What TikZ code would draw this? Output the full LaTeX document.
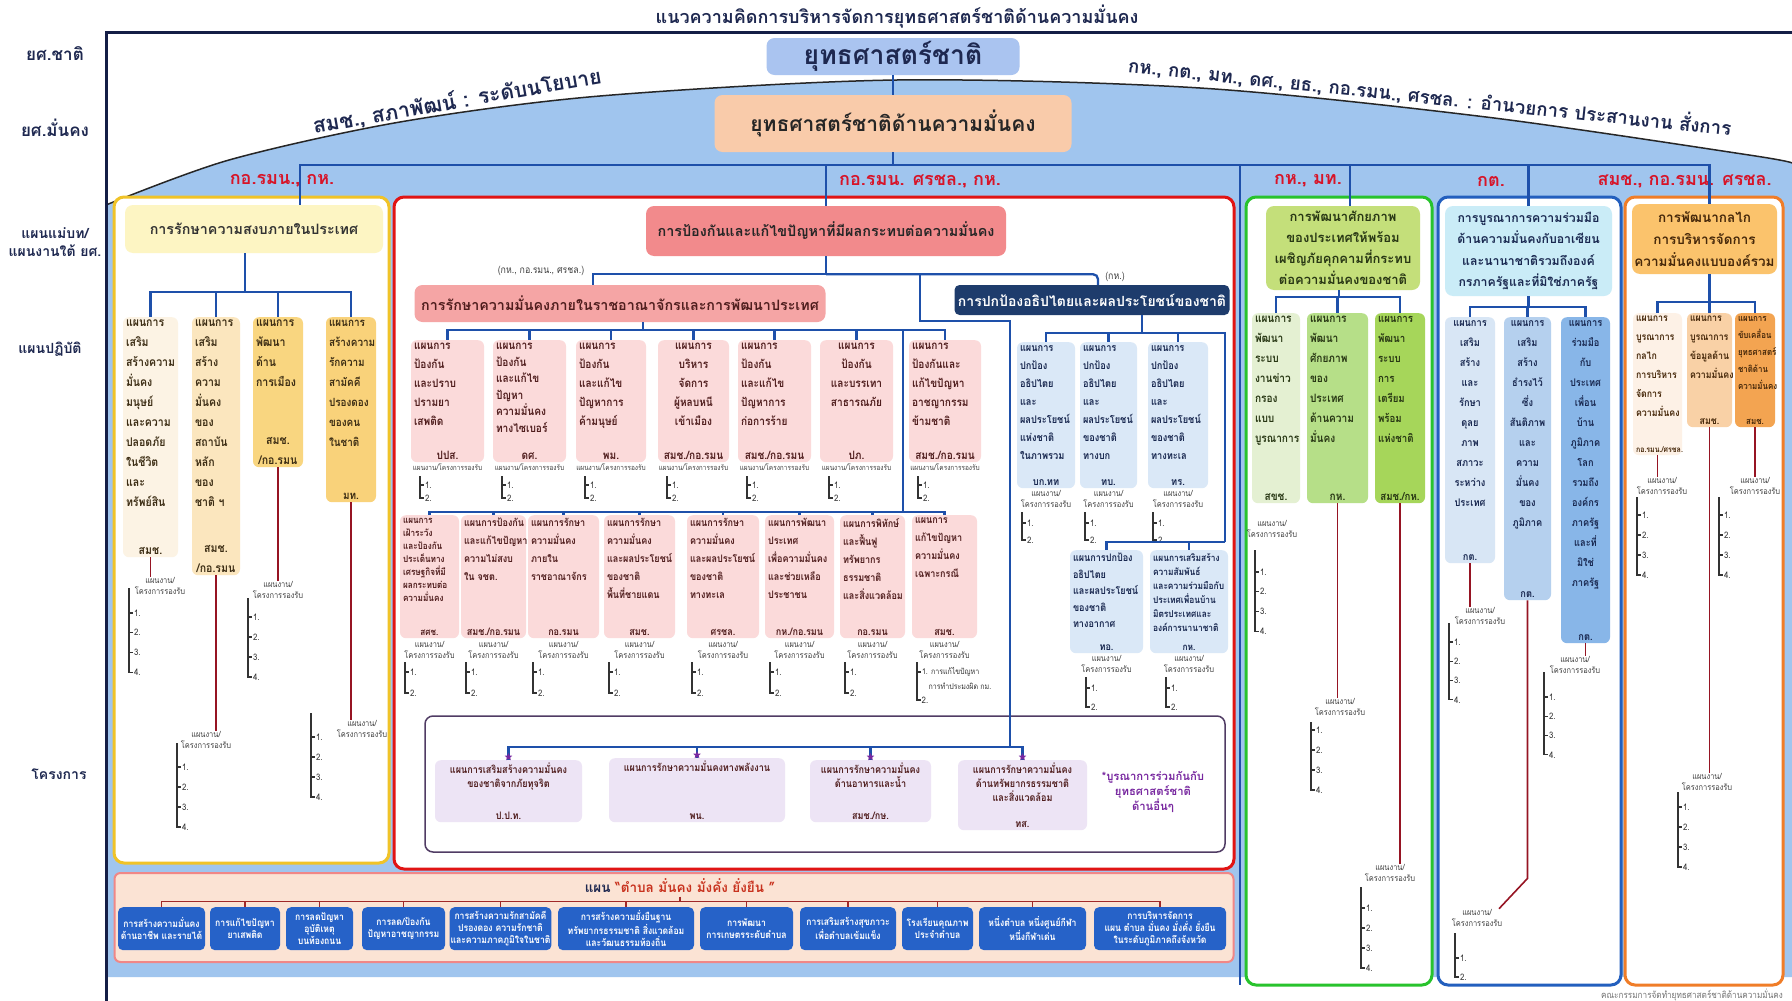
\documentclass[tikz,border=0pt]{standalone}
\usepackage{fontspec}
\setmainfont[Script=Thai]{Loma}
\newfontfamily\thc[Script=Thai,FakeStretch=0.88]{Loma}
\usetikzlibrary{positioning,shapes.geometric}

\definecolor{domeblue}{RGB}{160,197,238}
\definecolor{framenavy}{RGB}{20,30,70}
\definecolor{labnavy}{RGB}{30,40,80}
\definecolor{natblue}{RGB}{170,196,240}
\definecolor{secpeach}{RGB}{249,203,170}
\definecolor{agred}{RGB}{215,20,40}
\definecolor{connblue}{RGB}{30,80,170}
\definecolor{supred}{RGB}{150,20,35}
\definecolor{ygold}{RGB}{240,195,40}
\definecolor{rred}{RGB}{225,20,20}
\definecolor{ggreen}{RGB}{40,195,45}
\definecolor{bblue}{RGB}{35,95,190}
\definecolor{oorange}{RGB}{240,125,40}
\definecolor{yhdrfill}{RGB}{253,245,195}
\definecolor{ycola}{RGB}{252,243,228}
\definecolor{ycolb}{RGB}{251,230,190}
\definecolor{ycolc}{RGB}{249,214,128}
\definecolor{ycold}{RGB}{249,210,122}
\definecolor{ytext}{RGB}{60,45,20}
\definecolor{rhdrfill}{RGB}{242,138,140}
\definecolor{rintfill}{RGB}{245,165,165}
\definecolor{navyfill}{RGB}{30,60,108}
\definecolor{pinkcol}{RGB}{251,218,218}
\definecolor{ptext}{RGB}{80,30,30}
\definecolor{lbluecol}{RGB}{218,232,247}
\definecolor{ntext}{RGB}{25,40,80}
\definecolor{ghdrfill}{RGB}{196,223,122}
\definecolor{gcola}{RGB}{228,240,210}
\definecolor{gcolb}{RGB}{182,223,136}
\definecolor{gcolc}{RGB}{166,214,90}
\definecolor{gtext}{RGB}{40,55,20}
\definecolor{bhdrfill}{RGB}{202,236,247}
\definecolor{bcola}{RGB}{216,230,245}
\definecolor{bcolb}{RGB}{181,208,238}
\definecolor{bcolc}{RGB}{136,182,232}
\definecolor{ohdrfill}{RGB}{251,195,108}
\definecolor{ocola}{RGB}{253,241,230}
\definecolor{ocolb}{RGB}{249,209,166}
\definecolor{ocolc}{RGB}{243,164,81}
\definecolor{otext}{RGB}{70,40,10}
\definecolor{lav}{RGB}{237,228,245}
\definecolor{pframe}{RGB}{80,60,100}
\definecolor{notepurple}{RGB}{120,40,160}
\definecolor{tpeach}{RGB}{251,227,212}
\definecolor{tpinkline}{RGB}{240,135,135}
\definecolor{tblue}{RGB}{38,98,200}
\definecolor{tline}{RGB}{160,40,40}
\definecolor{ttlred}{RGB}{200,50,30}

\newcommand{\cb}[4]{\parbox[t][#2pt][t]{#1pt}{\raggedright #3\par\vfill\centering #4\par}}
\newcommand{\blist}[6]{%
  \draw[brk] (#2,#3) -- (#2,{#4+(#5-1)*#6}) -- ++(4,0);
  \foreach \i in {1,...,#5}
    \draw[brk] (#2,{#4+(\i-1)*#6}) -- ++(4,0) node[num] (#1\i) {\i.};
}

\begin{document}
\begin{tikzpicture}[x=1pt,y=-1pt,
  conn/.style={draw=connblue,line width=2.3pt},
  sline/.style={draw=supred,line width=1.6pt},
  brk/.style={draw=black!80,line width=1.1pt},
  num/.style={anchor=west,inner sep=0.5pt,text=black!80,font=\thc\fontsize{9}{9}\selectfont},
  sup/.style={align=center,inner sep=0.5pt,text=black!75,font=\thc\fontsize{8.5}{11}\selectfont},
  panel/.style={draw=#1,line width=3pt,fill=white,rounded corners=10pt},
  hdr/.style={fill=#1,rounded corners=8pt,align=center,inner sep=2pt},
  col/.style={fill=#1,rounded corners=6pt,anchor=north,inner sep=3pt},
  ycol/.style={col=#1,text=ytext,font=\thc\bfseries\fontsize{12}{20}\selectfont},
  pcol/.style={col=pinkcol,text=ptext,font=\thc\bfseries\fontsize{11.5}{19}\selectfont},
  qcol/.style={col=pinkcol,text=ptext,font=\thc\bfseries\fontsize{10.3}{18}\selectfont},
  ncol/.style={col=lbluecol,text=ntext,font=\thc\bfseries\fontsize{10.5}{18}\selectfont},
  gcol/.style={col=#1,text=gtext,font=\thc\bfseries\fontsize{11.5}{20}\selectfont},
  bcol/.style={col=#1,text=ntext,font=\thc\bfseries\fontsize{10.5}{20}\selectfont},
  ocol/.style={col=#1,text=otext,font=\thc\bfseries\fontsize{10}{19}\selectfont},
  jcol/.style={col=lav,text=ptext,font=\thc\bfseries\fontsize{10.3}{14}\selectfont},
  lbl/.style={text=labnavy,font=\bfseries\fontsize{14}{17}\selectfont},
  agl/.style={text=agred,font=\bfseries\fontsize{18}{19}\selectfont},
  tbox/.style={fill=tblue,rounded corners=5pt,text=white,align=center,anchor=north,inner sep=1pt,minimum height=43,font=\thc\bfseries\fontsize{9.8}{12.3}\selectfont}]

\useasboundingbox (0,0) rectangle (1792,1001);
\fill[white] (0,0) rectangle (1792,1001);

% dome and frame
\fill[domeblue] plot[smooth] coordinates {(106,205) (229,160) (400,122) (600,96) (897,80) (1200,88) (1486,117) (1749,155) (1792,163)} -- (1792,977) -- (106,977) -- cycle;
\draw[line width=1.5pt,black!85] plot[smooth] coordinates {(106,205) (229,160) (400,122) (600,96) (897,80) (1200,88) (1486,117) (1749,155) (1792,163)};
\draw[line width=3pt,framenavy] (106,1001) -- (106,32) -- (1792,32);

\node[text=labnavy,font=\bfseries\fontsize{18}{19}\selectfont] (title) at (897,17) {แนวความคิดการบริหารจัดการยุทธศาสตร์ชาติด้านความมั่นคง};
\node[lbl,font=\bfseries\fontsize{17}{18}\selectfont] (lnat) at (55,54) {ยศ.ชาติ};
\node[lbl,font=\bfseries\fontsize{17}{18}\selectfont] (lsec) at (55,128) {ยศ.มั่นคง};
\node[lbl,align=center,font=\bfseries\fontsize{14}{18}\selectfont] (lplan) at (55,242) {แผนแม่บท/\\แผนงานใต้ ยศ.};
\node[lbl] (lop) at (50,349) {แผนปฏิบัติ};
\node[lbl] (lproj) at (59,774) {โครงการ};

\node[rotate=10,text=labnavy,font=\bfseries\fontsize{21}{22}\selectfont] (pol) at (457,101) {สมช., สภาพัฒน์ : ระดับนโยบาย};
\node[rotate=-6,text=labnavy,font=\bfseries\fontsize{18.7}{20}\selectfont] (cmd) at (1430,96) {กห., กต., มท., ดศ., ยธ., กอ.รมน., ศรชล. : อำนวยการ ประสานงาน สั่งการ};

\node[hdr=natblue,minimum width=253,minimum height=37,text=labnavy,font=\bfseries\fontsize{26.5}{27}\selectfont] (nat) at (893,56.5) {ยุทธศาสตร์ชาติ};
\node[hdr=secpeach,minimum width=357,minimum height=57,text=black!85,font=\bfseries\fontsize{21}{22}\selectfont] (sec) at (893,123.5) {ยุทธศาสตร์ชาติด้านความมั่นคง};

\node[agl] (ag1) at (282,181) {กอ.รมน., กห.};
\node[agl] (ag2) at (920,181) {กอ.รมน. ศรชล., กห.};
\node[agl] (ag3) at (1308,181) {กห., มท.};
\node[agl] (ag4) at (1491,181) {กต.};
\node[agl,anchor=west] (ag5) at (1594,181) {สมช., กอ.รมน. ศรชล.};

% panels
\node[panel=ygold,minimum width=275,minimum height=666] (ypan) at (251.5,530) {};
\node[panel=rred,minimum width=840,minimum height=672] (rpan) at (814,533) {};
\node[panel=ggreen,minimum width=186,minimum height=788] (gpan) at (1339,591) {};
\node[panel=bblue,minimum width=183,minimum height=788] (bpan) at (1529.5,591) {};
\node[panel=oorange,minimum width=158,minimum height=788] (opan) at (1704,591) {};
\node[panel=tpinkline,fill=tpeach,line width=2pt,rounded corners=6pt,minimum width=1119,minimum height=89] (tstr) at (674,917.5) {};
\coordinate (sepbot) at (1240,985);

% yellow panel
\node[hdr=yhdrfill,minimum width=258,minimum height=48,text=black!80,font=\bfseries\fontsize{14.3}{16}\selectfont] (yhdr) at (254,229) {การรักษาความสงบภายในประเทศ};
\node[ycol=ycola] (ya) at (150.5,317) {\cb{49}{234}{แผนการ\\เสริม\\สร้างความ\\มั่นคง\\มนุษย์\\และความ\\ปลอดภัย\\ในชีวิต\\และ\\ทรัพย์สิน}{สมช.}};
\node[ycol=ycolb] (yb) at (216,317) {\cb{42}{252}{แผนการ\\เสริม\\สร้าง\\ความ\\มั่นคง\\ของ\\สถาบัน\\หลัก\\ของ\\ชาติ ฯ}{สมช.\\/กอ.รมน}};
\node[ycol=ycolc] (yc) at (278,317) {\cb{44}{144}{แผนการ\\พัฒนา\\ด้าน\\การเมือง}{สมช.\\/กอ.รมน}};
\node[ycol=ycold,font=\thc\bfseries\fontsize{11.3}{20}\selectfont] (yd) at (351,317) {\cb{44}{179}{แผนการ\\สร้างความ\\รักความ\\สามัคคี\\ปรองดอง\\ของคน\\ในชาติ}{มท.}};

\node[sup] (sya) at (160,586) {แผนงาน/\\โครงการรองรับ};
\blist{ya}{129}{588}{613}{4}{19.7}
\node[sup] (syb) at (206,740) {แผนงาน/\\โครงการรองรับ};
\blist{yb}{177}{743}{767}{4}{20}
\node[sup] (syc) at (278,590) {แผนงาน/\\โครงการรองรับ};
\blist{yc}{248}{598}{617}{4}{20}
\node[sup] (syd) at (362,729) {แผนงาน/\\โครงการรองรับ};
\blist{yd}{311}{713}{737}{4}{20}

% red panel
\node[hdr=rhdrfill,minimum width=360,minimum height=50,text=black!85,font=\bfseries\fontsize{14.4}{16}\selectfont] (rhdr) at (826,231) {การป้องกันและแก้ไขปัญหาที่มีผลกระทบต่อความมั่นคง};
\node[hdr=rintfill,minimum width=411,minimum height=37,text=ptext,font=\bfseries\fontsize{14.3}{16}\selectfont] (rint) at (620,303.5) {การรักษาความมั่นคงภายในราชอาณาจักรและการพัฒนาประเทศ};
\node[hdr=navyfill,rounded corners=5pt,minimum width=275,minimum height=30,text=white,font=\bfseries\fontsize{14}{15}\selectfont] (navy) at (1092,300) {การปกป้องอธิปไตยและผลประโยชน์ของชาติ};
\node[font=\thc\fontsize{10}{11}\selectfont,text=black!75] (rnote1) at (541,271) {(กห., กอ.รมน., ศรชล.)};
\node[font=\thc\fontsize{10}{11}\selectfont,text=black!75] (rnote2) at (1115,277) {(กห.)};

\node[pcol] (p1) at (447.5,340) {\cb{67}{116}{แผนการ\\ป้องกัน\\และปราบ\\ปรามยา\\เสพติด}{ปปส.}};
\node[pcol,font=\thc\bfseries\fontsize{11.5}{16.5}\selectfont] (p2) at (529.5,340) {\cb{67}{116}{แผนการ\\ป้องกัน\\และแก้ไข\\ปัญหา\\ความมั่นคง\\ทางไซเบอร์}{ดศ.}};
\node[pcol] (p3) at (611,340) {\cb{64}{116}{แผนการ\\ป้องกัน\\และแก้ไข\\ปัญหาการ\\ค้ามนุษย์}{พม.}};
\node[pcol] (p4) at (693.5,340) {\cb{65}{116}{\centering แผนการ\\บริหาร\\จัดการ\\ผู้หลบหนี\\เข้าเมือง}{สมช./กอ.รมน}};
\node[pcol] (p5) at (774.5,340) {\cb{67}{116}{แผนการ\\ป้องกัน\\และแก้ไข\\ปัญหาการ\\ก่อการร้าย}{สมช./กอ.รมน}};
\node[pcol] (p6) at (856.5,340) {\cb{67}{116}{\centering แผนการ\\ป้องกัน\\และบรรเทา\\สาธารณภัย}{ปภ.}};
\node[pcol] (p7) at (945,340) {\cb{66}{116}{แผนการ\\ป้องกันและ\\แก้ไขปัญหา\\อาชญากรรม\\ข้ามชาติ}{สมช./กอ.รมน}};
\foreach \n/\c/\l in {1/447.5/411,2/529.5/493,3/611/576,4/693.5/658,5/774.5/738,6/856.5/820,7/945/909} {
  \node[sup,font=\thc\fontsize{7.4}{8}\selectfont] (sp\n) at (\c,467) {แผนงาน/โครงการรองรับ};
  \blist{sp\n-}{\l+9}{476}{485}{2}{13}
}

\node[qcol,font=\thc\bfseries\fontsize{9.3}{13}\selectfont] (q1) at (429.5,515) {\cb{53}{117}{แผนการ\\เฝ้าระวัง\\และป้องกัน\\ประเด็นทาง\\เศรษฐกิจที่มี\\ผลกระทบต่อ\\ความมั่นคง}{สศช.}};
\node[qcol] (q2) at (493.5,515) {\cb{59}{117}{แผนการป้องกัน\\และแก้ไขปัญหา\\ความไม่สงบ\\ใน จชต.}{สมช./กอ.รมน}};
\node[qcol] (q3) at (563.5,515) {\cb{65}{117}{แผนการรักษา\\ความมั่นคง\\ภายใน\\ราชอาณาจักร}{กอ.รมน}};
\node[qcol] (q4) at (639.5,515) {\cb{65}{117}{แผนการรักษา\\ความมั่นคง\\และผลประโยชน์\\ของชาติ\\พื้นที่ชายแดน}{สมช.}};
\node[qcol] (q5) at (723,515) {\cb{66}{117}{แผนการรักษา\\ความมั่นคง\\และผลประโยชน์\\ของชาติ\\ทางทะเล}{ศรชล.}};
\node[qcol] (q6) at (799.5,515) {\cb{63}{117}{แผนการพัฒนา\\ประเทศ\\เพื่อความมั่นคง\\และช่วยเหลือ\\ประชาชน}{กห./กอ.รมน}};
\node[qcol] (q7) at (872.5,515) {\cb{59}{117}{แผนการพิทักษ์\\และฟื้นฟู\\ทรัพยากร\\ธรรมชาติ\\และสิ่งแวดล้อม}{กอ.รมน}};
\node[qcol] (q8) at (944.5,515) {\cb{59}{117}{แผนการ\\แก้ไขปัญหา\\ความมั่นคง\\เฉพาะกรณี}{สมช.}};
\foreach \n/\c/\l in {1/429.5/400,2/493.5/461,3/563.5/528,4/639.5/604,5/723/687,6/799.5/765,7/872.5/840} {
  \node[sup] (sq\n) at (\c,650) {แผนงาน/\\โครงการรองรับ};
  \blist{sq\n-}{\l+5}{662}{672}{2}{21}
}
\node[sup] (sq8) at (944.5,650) {แผนงาน/\\โครงการรองรับ};
\draw[brk] (917,662) -- (917,700) -- ++(4,0);
\draw[brk] (917,672) -- ++(4,0) node[num,font=\thc\fontsize{8}{9}\selectfont] (sq8-1) {1. การแก้ไขปัญหา};
\node[num,font=\thc\fontsize{8}{9}\selectfont] (sq8-1b) at (928,686) {การทำประมงผิด กม.};
\node[num] (sq8-2) at (921,700) {2.};

\node[ncol] (n1) at (1046,342) {\cb{52}{140}{แผนการ\\ปกป้อง\\อธิปไตย\\และ\\ผลประโยชน์\\แห่งชาติ\\ในภาพรวม}{บก.ทท}};
\node[ncol] (n2) at (1108.5,342) {\cb{51}{140}{แผนการ\\ปกป้อง\\อธิปไตย\\และ\\ผลประโยชน์\\ของชาติ\\ทางบก}{ทบ.}};
\node[ncol] (n3) at (1178,342) {\cb{54}{140}{แผนการ\\ปกป้อง\\อธิปไตย\\และ\\ผลประโยชน์\\ของชาติ\\ทางทะเล}{ทร.}};
\foreach \n/\c/\l in {1/1046/1017,2/1108.5/1080,3/1178/1148} {
  \node[sup] (sn\n) at (\c,499) {แผนงาน/\\โครงการรองรับ};
  \blist{sn\n-}{\l+5}{512}{523}{2}{17}
}
\node[ncol,font=\thc\bfseries\fontsize{10.3}{16.5}\selectfont] (m1) at (1106.5,550) {\cb{67}{97}{แผนการปกป้อง\\อธิปไตย\\และผลประโยชน์\\ของชาติ\\ทางอากาศ}{ทอ.}};
\node[ncol,font=\thc\bfseries\fontsize{9.5}{14}\selectfont] (m2) at (1189,550) {\cb{72}{97}{แผนการเสริมสร้าง\\ความสัมพันธ์\\และความร่วมมือกับ\\ประเทศเพื่อนบ้าน\\มิตรประเทศและ\\องค์การนานาชาติ}{กห.}};
\foreach \n/\c/\l in {1/1106.5/1070,2/1189/1150} {
  \node[sup] (sm\n) at (\c,664) {แผนงาน/\\โครงการรองรับ};
  \blist{sm\n-}{\l+16}{677}{688}{2}{19}
}

% projects
\node[draw=pframe,line width=1.5pt,rounded corners=8pt,minimum width=800,minimum height=136] (pfr) at (825,784) {};
\node[jcol] (j1) at (508.5,760) {\cb{141}{56}{\centering แผนการเสริมสร้างความมั่นคง\\ของชาติจากภัยทุจริต}{ป.ป.ท.}};
\node[jcol] (j2) at (697,758) {\cb{170}{58}{\centering แผนการรักษาความมั่นคงทางพลังงาน}{พน.}};
\node[jcol] (j3) at (870.5,760) {\cb{115}{56}{\centering แผนการรักษาความมั่นคง\\ด้านอาหารและน้ำ}{สมช./กษ.}};
\node[jcol] (j4) at (1022.5,760) {\cb{123}{64}{\centering แผนการรักษาความมั่นคง\\ด้านทรัพยากรธรรมชาติ\\และสิ่งแวดล้อม}{ทส.}};
\node[align=center,text=notepurple,font=\bfseries\fontsize{11.3}{15}\selectfont] (pnote) at (1153,792) {*บูรณาการร่วมกันกับ\\ยุทธศาสตร์ชาติ\\ด้านอื่นๆ};

% tambon strip
\node[font=\bfseries\fontsize{13.5}{14}\selectfont] (ttl) at (680,886) {\textcolor{labnavy}{แผน} \textcolor{ttlred}{``ตำบล มั่นคง มั่งคั่ง ยั่งยืน ''}};
\foreach \n/\x/\w/\t in {1/161.5/87/{การสร้างความมั่นคง\\ด้านอาชีพ และรายได้},2/245/70/{การแก้ไขปัญหา\\ยาเสพติด},3/319.5/67/{การลดปัญหา\\อุบัติเหตุ\\บนท้องถนน},4/403.5/83/{การลด/ป้องกัน\\ปัญหาอาชญากรรม},5/500.5/99/{การสร้างความรักสามัคคี\\ปรองดอง ความรักชาติ\\และความภาคภูมิใจในชาติ},6/626/136/{การสร้างความยั่งยืนฐาน\\ทรัพยากรธรรมชาติ สิ่งแวดล้อม\\และวัฒนธรรมท้องถิ่น},7/746.5/93/{การพัฒนา\\การเกษตรระดับตำบล},8/848/96/{การเสริมสร้างสุขภาวะ\\เพื่อตำบลเข้มแข็ง},9/937.5/71/{โรงเรียนคุณภาพ\\ประจำตำบล},10/1032.5/107/{หนึ่งตำบล หนึ่งศูนย์กีฬา\\หนึ่งกีฬาเด่น},11/1160/132/{การบริหารจัดการ\\แผน ตำบล มั่นคง มั่งคั่ง ยั่งยืน\\ในระดับภูมิภาคถึงจังหวัด}}
  \node[tbox,minimum width=\w] (t\n) at (\x,907) {\t};

% green panel
\node[hdr=ghdrfill,minimum width=154,minimum height=84,text=gtext,font=\bfseries\fontsize{13}{21}\selectfont] (ghdr) at (1343,248) {การพัฒนาศักยภาพ\\ของประเทศให้พร้อม\\เผชิญภัยคุกคามที่กระทบ\\ต่อความมั่นคงของชาติ};
\node[gcol=gcola] (g1) at (1276,313) {\cb{42}{184}{แผนการ\\พัฒนา\\ระบบ\\งานข่าว\\กรอง\\แบบ\\บูรณาการ}{สขช.}};
\node[gcol=gcolb] (g2) at (1337.5,313) {\cb{55}{184}{แผนการ\\พัฒนา\\ศักยภาพ\\ของ\\ประเทศ\\ด้านความ\\มั่นคง}{กห.}};
\node[gcol=gcolc,font=\thc\bfseries\fontsize{11}{20}\selectfont] (g3) at (1400,313) {\cb{44}{184}{แผนการ\\พัฒนา\\ระบบ\\การ\\เตรียม\\พร้อม\\แห่งชาติ}{สมช./กห.}};
\node[sup] (sg1) at (1272,529) {แผนงาน/\\โครงการรองรับ};
\blist{sg1-}{1255}{550}{572}{4}{19.7}
\node[sup] (sg2) at (1340,707) {แผนงาน/\\โครงการรองรับ};
\blist{sg2-}{1311}{722}{730}{4}{20}
\node[sup] (sg3) at (1390,873) {แผนงาน/\\โครงการรองรับ};
\blist{sg3-}{1361}{887}{908}{4}{20}

% blue panel
\node[hdr=bhdrfill,minimum width=167,minimum height=90,text=ntext,font=\bfseries\fontsize{12.3}{21.5}\selectfont] (bhdr) at (1528.5,251) {การบูรณาการความร่วมมือ\\ด้านความมั่นคงกับอาเซียน\\และนานาชาติรวมถึงองค์\\กรภาครัฐและที่มิใช่ภาครัฐ};
\node[bcol=bcola] (b1) at (1470,317) {\cb{44}{240}{\centering แผนการ\\เสริม\\สร้าง\\และ\\รักษา\\ดุลย\\ภาพ\\สภาวะ\\ระหว่าง\\ประเทศ}{กต.}};
\node[bcol=bcolb] (b2) at (1527.5,317) {\cb{41}{277}{\centering แผนการ\\เสริม\\สร้าง\\ธำรงไว้\\ซึ่ง\\สันติภาพ\\และ\\ความ\\มั่นคง\\ของ\\ภูมิภาค}{กต.}};
\node[bcol=bcolc] (b3) at (1585.5,317) {\cb{43}{320}{\centering แผนการ\\ร่วมมือ\\กับ\\ประเทศ\\เพื่อน\\บ้าน\\ภูมิภาค\\โลก\\รวมถึง\\องค์กร\\ภาครัฐ\\และที่\\มิใช่\\ภาครัฐ}{กต.}};
\node[sup] (sb1) at (1480,616) {แผนงาน/\\โครงการรองรับ};
\blist{sb1-}{1449}{623}{642}{4}{19.3}
\node[sup] (sb2) at (1477,918) {แผนงาน/\\โครงการรองรับ};
\blist{sb2-}{1455}{933}{958}{2}{19}
\node[sup] (sb3) at (1575,665) {แผนงาน/\\โครงการรองรับ};
\blist{sb3-}{1544}{672}{697}{4}{19.3}

% orange panel
\node[hdr=ohdrfill,minimum width=145,minimum height=70,text=otext,font=\bfseries\fontsize{13.5}{22}\selectfont] (ohdr) at (1704.5,239) {การพัฒนากลไก\\การบริหารจัดการ\\ความมั่นคงแบบองค์รวม};
\node[ocol=ocola] (o1) at (1657.5,313) {\cb{43}{136}{แผนการ\\บูรณาการ\\กลไก\\การบริหาร\\จัดการ\\ความมั่นคง}{\fontsize{8}{10}\selectfont กอ.รมน./ศรชล.}};
\node[ocol=ocolb] (o2) at (1709.5,313) {\cb{39}{108}{แผนการ\\บูรณาการ\\ข้อมูลด้าน\\ความมั่นคง}{สมช.}};
\node[ocol=ocolc,font=\thc\bfseries\fontsize{9}{17}\selectfont] (o3) at (1755,313) {\cb{34}{108}{แผนการ\\ขับเคลื่อน\\ยุทธศาสตร์\\ชาติด้าน\\ความมั่นคง}{สมช.}};
\node[sup] (so1) at (1662,486) {แผนงาน/\\โครงการรองรับ};
\blist{so1-}{1637}{497}{515}{4}{20}
\node[sup] (so2) at (1707,782) {แผนงาน/\\โครงการรองรับ};
\blist{so2-}{1678}{792}{807}{4}{20}
\node[sup] (so3) at (1755,486) {แผนงาน/\\โครงการรองรับ};
\blist{so3-}{1719}{497}{515}{4}{20}

\node[text=black!55,font=\thc\fontsize{9.3}{10}\selectfont] (foot) at (1692,995) {คณะกรรมการจัดทำยุทธศาสตร์ชาติด้านความมั่นคง};

% connectors
\draw[conn] (nat.south) -- (sec.north);
\draw[conn] (sec.south) -- ++(0,13) coordinate (mb);
\foreach \to/\dx in {yhdr/46,rhdr/0,ghdr/7,bhdr/0,ohdr/5}
  \draw[conn] (mb) -| ([xshift=\dx]\to.north);
\draw[conn] (mb) -| (sepbot);

\draw[conn] ([xshift=-9]yhdr.south) -- ++(0,39) coordinate (yb0);
\foreach \c in {ya,yb,yc,yd}
  \draw[conn] (yb0) -| (\c.north);
\foreach \from/\to in {ya/sya,yb/syb,yc/syc,yd/syd}
  \draw[sline] (\from.south) -- (\from.south |- \to.north);

\draw[conn] (rhdr.south) -- ++(0,18) coordinate (rb0);
\draw[conn] (rb0) -| ([xshift=-27]rint.north);
\draw[conn,rounded corners=5pt] (rb0) -| ([xshift=6]navy.north);
\coordinate (pj) at (1010,747);
\draw[conn] (rb0) -- ++(94,0) -- ++(0,47) -| (pj);
\draw[conn] ([xshift=23]rint.south) -- ++(0,8) coordinate (ib1);
\foreach \c in {p1,p2,p3,p4,p5,p6,p7}
  \draw[conn] (ib1) -| (\c.north);
\draw[conn] (ib1) -- ++(260,0) -- ++(0,182) coordinate (ib2);
\foreach \c in {q1,q2,q3,q4,q5,q6,q7,q8}
  \draw[conn] (ib2) -| (\c.north);
\draw[conn] ([xshift=50]navy.south) -- ++(0,18) coordinate (nb0);
\foreach \c in {n1,n2,n3}
  \draw[conn] (nb0) -| (\c.north);
\draw[conn] (nb0) -- ++(83,0) -- ++(0,209) coordinate (mb0);
\foreach \c in {m1,m2}
  \draw[conn] (mb0) -| (\c.north);
\foreach \n in {1,2,3,4} {
  \draw[conn] (pj) -| (j\n.north);
  \node[star,star points=5,star point ratio=2.3,fill=notepurple,inner sep=0pt,minimum size=8] (st\n) at ([yshift=3]j\n.north) {};
}

\draw[tline,line width=1.3pt] (ttl.south) -- ++(0,5) coordinate (tb0);
\foreach \n in {1,...,11}
  \draw[tline,line width=1.3pt] (tb0) -| (t\n.north);

\draw[conn] ([xshift=-4]ghdr.south) -- ++(0,7) coordinate (gb0);
\foreach \c in {g1,g2,g3}
  \draw[conn] (gb0) -| (\c.north);
\foreach \from/\to in {g2/sg2,g3/sg3}
  \draw[sline] (\from.south) -- (\from.south |- \to.north);

\draw[conn] (bhdr.south) -- ++(0,11) coordinate (bb0);
\foreach \c in {b1,b2,b3}
  \draw[conn] (bb0) -| (\c.north);
\foreach \from/\to in {b1/sb1,b3/sb3}
  \draw[sline] (\from.south) -- (\from.south |- \to.north);
\draw[sline] (b2.south) -- ++(0,278) -- ([xshift=22]sb2.north);

\draw[conn] ([xshift=5]ohdr.south) -- ++(0,28) coordinate (ob0);
\foreach \c in {o1,o2,o3}
  \draw[conn] (ob0) -| (\c.north);
\foreach \from/\to in {o1/so1,o2/so2,o3/so3}
  \draw[sline] (\from.south) -- (\from.south |- \to.north);
\end{tikzpicture}
\end{document}
